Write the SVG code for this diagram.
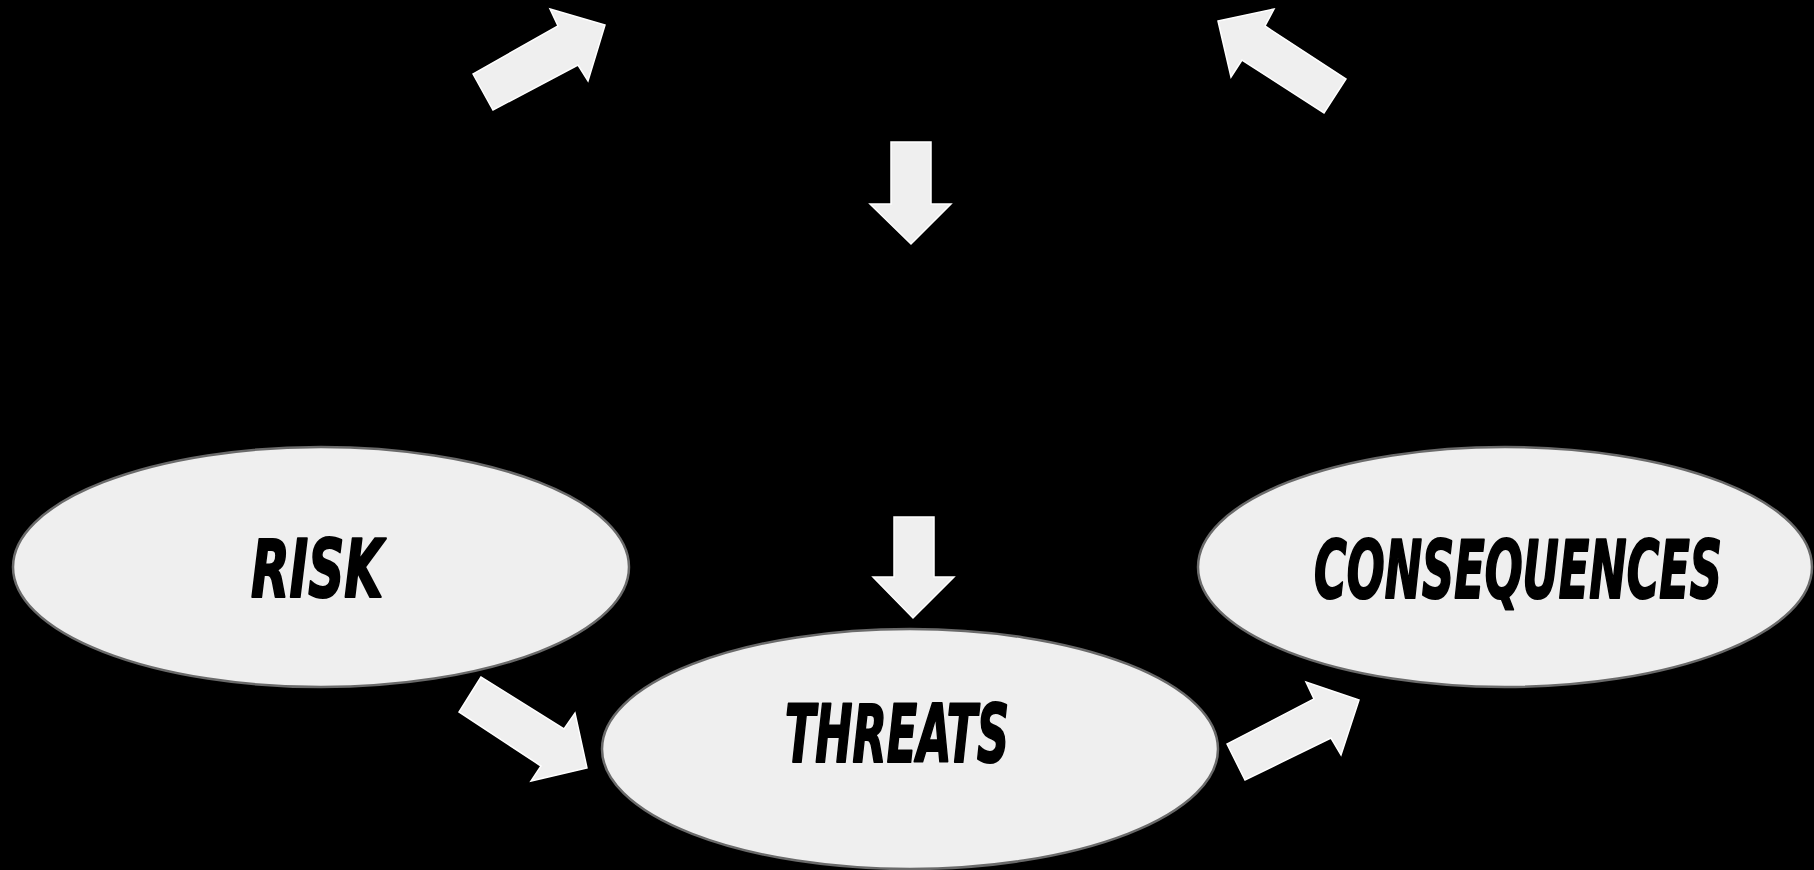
<svg xmlns="http://www.w3.org/2000/svg" width="1814" height="870" viewBox="0 0 1814 870">
  <style>
    .node ellipse { fill: #efefef; stroke: #6a6a6a; stroke-width: 2.5; }
    .lbl { font-family: "DejaVu Sans Condensed", "DejaVu Sans", "Liberation Sans", sans-serif; font-weight: bold; font-style: italic; font-size: 56px; fill: #000; stroke: #000; stroke-width: 1.5; stroke-linejoin: round; }
    .arrow { fill: #efefef; stroke: #ffffff; stroke-width: 1.5; stroke-linejoin: miter; }
  </style>
  <rect x="0" y="0" width="1814" height="870" fill="#000"/>

  <g id="connectors">
    <polygon class="arrow" points="473,74 493,110 578,65 588,81 605,25 550,9 558,26"/>
    <polygon class="arrow" points="1218,21 1274,9 1265,26 1346,79 1324,113 1242,60 1231,77"/>
    <polygon class="arrow" points="891,142 931,142 931,204 951,204 911,244 870,204 891,204"/>
    <polygon class="arrow" points="894,517 934,517 934,577 954,577 913,618 873,577 894,577"/>
    <polygon class="arrow" points="481,677 459,712 541,766 531,781 587,768 575,713 564,729"/>
    <polygon class="arrow" points="1227,744 1245,780 1331,738 1341,755 1359,700 1306,682 1314,699"/>
  </g>

  <g id="risk" class="node">
    <ellipse cx="321" cy="567" rx="308" ry="120"/>
    <text class="lbl" transform="translate(251,597) scale(1,1.43)" x="0" y="0" textLength="132" lengthAdjust="spacingAndGlyphs">RISK</text>
  </g>

  <g id="threats" class="node">
    <ellipse cx="910" cy="749" rx="308" ry="120"/>
    <text class="lbl" transform="translate(785,762) scale(1,1.43)" x="0" y="0" textLength="224" lengthAdjust="spacingAndGlyphs">THREATS</text>
  </g>

  <g id="consequences" class="node">
    <ellipse cx="1505" cy="567" rx="307" ry="120"/>
    <text class="lbl" transform="translate(1314,598) scale(1,1.43)" x="0" y="0" textLength="408" lengthAdjust="spacingAndGlyphs">CONSEQUENCES</text>
  </g>
</svg>
